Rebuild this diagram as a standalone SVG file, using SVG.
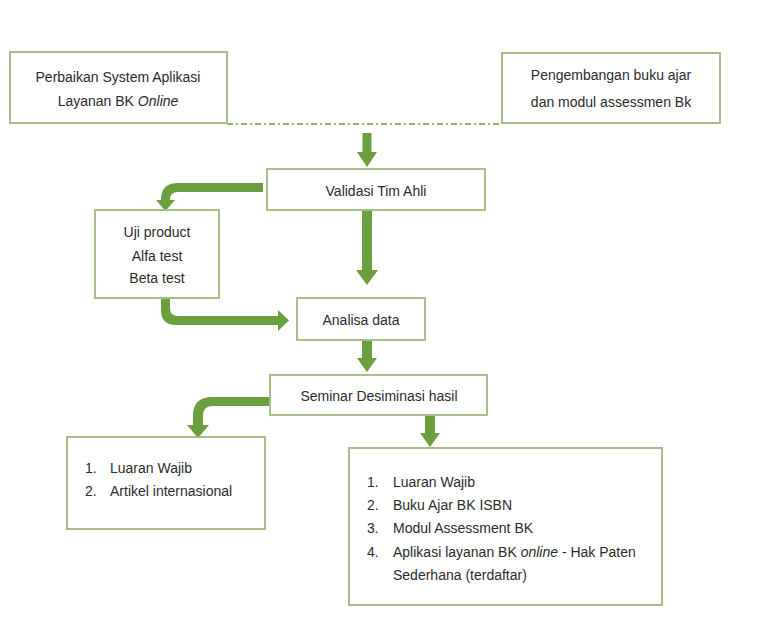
<svg xmlns="http://www.w3.org/2000/svg" width="759" height="642" viewBox="0 0 759 642">
<style>
.box{fill:#ffffff;stroke:#a6bf88;stroke-width:2}
.t{font-family:"Liberation Sans",Arial,sans-serif;font-size:14px;fill:#2b2b2b}
.c{text-anchor:middle}
.arr{fill:#6c9f3f}
.dd{stroke:#8db366;stroke-width:1.8;stroke-dasharray:6 3 2 3;fill:none}
</style>
<rect width="759" height="642" fill="#ffffff"/>
<g id="connectors">
<line class="dd" x1="227" y1="124" x2="502" y2="124"/>
<path class="arr" d="M362.5,133 L371.5,133 L371.5,152 L377,152 L367,167 L357,152 L362.5,152 Z"/>
<path class="arr" d="M263,183 L178,183 Q161,183 161,200 L156,200 L165.5,211 L175,200 L170,200 Q170,192 178,192 L263,192 Z"/>
<path class="arr" d="M362,210 L372,210 L372,270 L378,270 L367,285 L356,270 L362,270 Z"/>
<path class="arr" d="M161,298 L161,310 Q161,325 176,325 L278,325 L278,331 L289,320.5 L278,310 L278,316 L178,316 Q170,316 170,308 L170,298 Z"/>
<path class="arr" d="M362,340 L372,340 L372,358 L377,358 L367,372 L357,358 L362,358 Z"/>
<path class="arr" d="M270,397 L212,397 Q193,397 193,416 L193,425 L187,425 L198,438 L209,425 L203,425 L203,416 Q203,406 212,406 L270,406 Z"/>
<path class="arr" d="M425,415 L435,415 L435,433 L440,433 L430,447 L420,433 L425,433 Z"/>
</g>
<g id="node-perbaikan">
<rect class="box" x="10" y="52" width="217" height="71"/>
<text class="t c" x="118" y="82">Perbaikan System Aplikasi</text>
<text class="t c" x="118" y="106">Layanan BK <tspan font-style="italic">Online</tspan></text>
</g>
<g id="node-pengembangan">
<rect class="box" x="502" y="53" width="218" height="70"/>
<text class="t c" x="611" y="80">Pengembangan buku ajar</text>
<text class="t c" x="611" y="107">dan modul assessmen Bk</text>
</g>
<g id="node-validasi">
<rect class="box" x="267" y="169" width="218" height="41"/>
<text class="t c" x="376" y="196">Validasi Tim Ahli</text>
</g>
<g id="node-uji">
<rect class="box" x="95" y="210" width="124" height="88"/>
<text class="t c" x="157" y="237">Uji product</text>
<text class="t c" x="157" y="261">Alfa test</text>
<text class="t c" x="157" y="283">Beta test</text>
</g>
<g id="node-analisa">
<rect class="box" x="297" y="298" width="128" height="42"/>
<text class="t c" x="361" y="325">Analisa data</text>
</g>
<g id="node-seminar">
<rect class="box" x="270" y="375" width="217" height="40"/>
<text class="t c" x="379" y="401">Seminar Desiminasi hasil</text>
</g>
<g id="node-luaran-kiri">
<rect class="box" x="67" y="437" width="198" height="92"/>
<text class="t" x="85" y="473">1.</text>
<text class="t" x="110" y="473">Luaran Wajib</text>
<text class="t" x="85" y="496">2.</text>
<text class="t" x="110" y="496">Artikel internasional</text>
</g>
<g id="node-luaran-kanan">
<rect class="box" x="349" y="448" width="313" height="157"/>
<text class="t" x="367" y="487">1.</text>
<text class="t" x="393" y="487">Luaran Wajib</text>
<text class="t" x="367" y="510">2.</text>
<text class="t" x="393" y="510">Buku Ajar BK ISBN</text>
<text class="t" x="367" y="533">3.</text>
<text class="t" x="393" y="533">Modul Assessment BK</text>
<text class="t" x="367" y="557">4.</text>
<text class="t" x="393" y="557">Aplikasi layanan BK <tspan font-style="italic">online</tspan> - Hak Paten</text>
<text class="t" x="393" y="580">Sederhana (terdaftar)</text>
</g>
</svg>
